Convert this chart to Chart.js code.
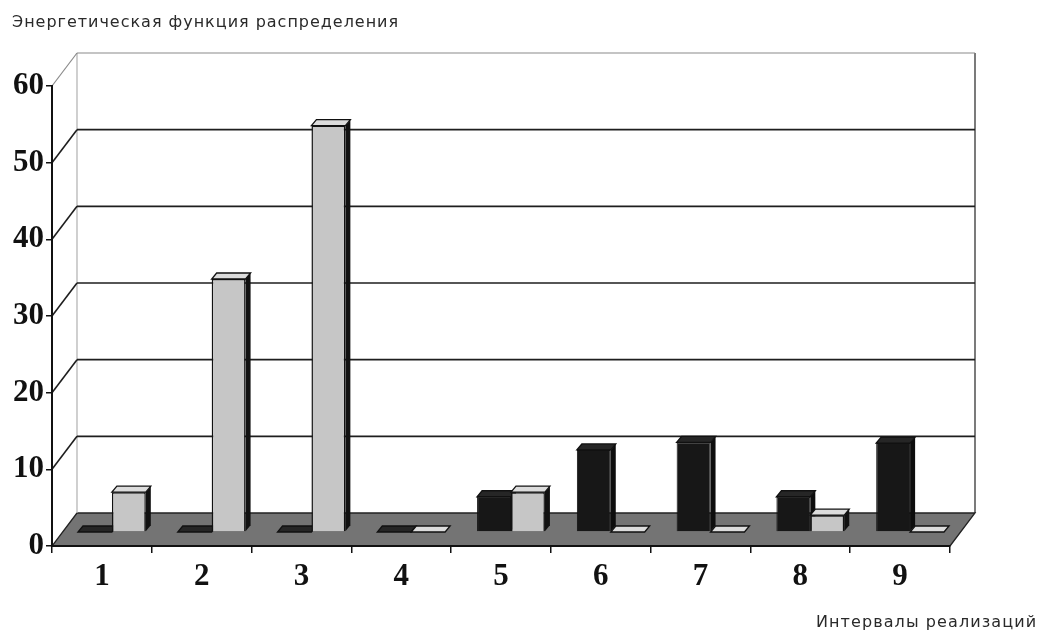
<!DOCTYPE html>
<html>
<head>
<meta charset="utf-8">
<script src="https://cdn.jsdelivr.net/npm/chart.js@4.4.1/dist/chart.umd.min.js"></script>
<style>
    html, body { margin: 0; padding: 0; background: #fff; }
    #wrap { width: 1040px; height: 631px; }
</style>
</head>
<body>
<div id="wrap"><canvas id="chart"></canvas></div>
<script>
// Данные
const intervals = ['1', '2', '3', '4', '5', '6', '7', '8', '9'];
const darkSeries = [0, 0, 0, 0, 4.6, 10.7, 11.7, 4.6, 11.6];
const lightSeries = [5.2, 33, 53, 0, 5.2, 0, 0, 2.2, 0];
const yTicks = [0, 10, 20, 30, 40, 50, 60];
const chartTitle = 'Энергетическая функция распределения';
const xTitle = 'Интервалы реализаций';

// Смещения "3D": задняя стенка, ряд столбиков, глубина столбика
const WALL = { x: 25, y: -33 };
const ROW = { x: 10, y: -14 };
const BAR = { x: 5, y: -6 };

function line(ctx, x1, y1, x2, y2) {
    ctx.beginPath();
    ctx.moveTo(x1, y1);
    ctx.lineTo(x2, y2);
    ctx.stroke();
}

// Текст с разрядкой, чтобы занять ширину от x0 до x1
function drawSpaced(ctx, text, x0, x1, y) {
    ctx.letterSpacing = '0px';
    const w = ctx.measureText(text).width;
    const extra = (x1 - x0 - w) / (text.length - 1);
    ctx.letterSpacing = extra.toFixed(2) + 'px';
    ctx.fillText(text, x0, y);
    ctx.letterSpacing = '0px';
}

// Пол, задняя стенка и сетка
const box3d = {
    id: 'box3d',
    beforeDraw(chart) {
        const ctx = chart.ctx;
        const x = chart.scales.x, y = chart.scales.y;
        const l = x.left, r = x.right;
        const y0 = y.getPixelForValue(0);
        const yTop = y.getPixelForValue(60);
        ctx.save();

        // пол
        ctx.beginPath();
        ctx.moveTo(l, y0);
        ctx.lineTo(r, y0);
        ctx.lineTo(r + WALL.x, y0 + WALL.y);
        ctx.lineTo(l + WALL.x, y0 + WALL.y);
        ctx.closePath();
        ctx.fillStyle = '#747474';
        ctx.fill();
        ctx.strokeStyle = '#222';
        ctx.lineWidth = 1.3;
        ctx.stroke();

        // края стенки
        ctx.lineWidth = 1.2;
        ctx.strokeStyle = '#b0b0b0';
        line(ctx, l + WALL.x, yTop + WALL.y, l + WALL.x, y0 + WALL.y);
        ctx.strokeStyle = '#222';
        line(ctx, r + WALL.x, yTop + WALL.y, r + WALL.x, y0 + WALL.y);

        // линии сетки и диагонали к оси
        yTicks.forEach(v => {
            if (v === 0) return;
            const py = y.getPixelForValue(v);
            ctx.strokeStyle = v === 60 ? '#8a8a8a' : '#1e1e1e';
            ctx.lineWidth = v === 60 ? 1.2 : 1.6;
            line(ctx, l + WALL.x, py + WALL.y, r + WALL.x, py + WALL.y);
            line(ctx, l, py, l + WALL.x, py + WALL.y);
        });
        ctx.restore();
    }
};

// Боковые и верхние грани столбиков, сдвиг ряда вглубь
const barDepth = {
    id: 'barDepth',
    beforeDatasetsDraw(chart) {
        const ctx = chart.ctx;
        ctx.save();
        ctx.translate(ROW.x, ROW.y);
        chart.data.datasets.forEach((ds, i) => {
            chart.getDatasetMeta(i).data.forEach(bar => {
                const L = bar.x - bar.width / 2;
                const R = bar.x + bar.width / 2;
                const T = bar.y, B = bar.base;

                // бок
                ctx.beginPath();
                ctx.moveTo(R, T);
                ctx.lineTo(R + BAR.x, T + BAR.y);
                ctx.lineTo(R + BAR.x, B + BAR.y);
                ctx.lineTo(R, B);
                ctx.closePath();
                ctx.fillStyle = ds.sideColor;
                ctx.fill();

                // верх
                ctx.beginPath();
                ctx.moveTo(L, T);
                ctx.lineTo(R, T);
                ctx.lineTo(R + BAR.x, T + BAR.y);
                ctx.lineTo(L + BAR.x, T + BAR.y);
                ctx.closePath();
                ctx.fillStyle = ds.topColor;
                ctx.fill();
                ctx.strokeStyle = '#111';
                ctx.lineWidth = 1.3;
                ctx.stroke();
            });
        });
    },
    afterDatasetsDraw(chart) {
        chart.ctx.restore();
    }
};

// Подписи
const captions = {
    id: 'captions',
    afterDraw(chart) {
        const ctx = chart.ctx;
        ctx.save();
        ctx.fillStyle = '#2a2a2a';
        ctx.textBaseline = 'alphabetic';
        ctx.font = '16px "DejaVu Sans"';
        drawSpaced(ctx, chartTitle, 12, 398, 27);
        drawSpaced(ctx, xTitle, 816, 1036, 627);
        ctx.restore();
    }
};

const tickFont = { family: "'Liberation Serif', 'Times New Roman', serif", size: 31, weight: 'bold' };

new Chart(document.getElementById('chart'), {
    type: 'bar',
    data: {
        labels: intervals,
        datasets: [
            {
                label: 'dark',
                data: darkSeries,
                backgroundColor: '#171717',
                borderColor: '#111',
                borderWidth: 1,
                topColor: '#262626',
                sideColor: '#0d0d0d'
            },
            {
                label: 'light',
                data: lightSeries,
                backgroundColor: '#c6c6c6',
                borderColor: '#111',
                borderWidth: 1.5,
                topColor: '#dcdcdc',
                sideColor: '#111'
            }
        ]
    },
    options: {
        responsive: true,
        maintainAspectRatio: false,
        animation: false,
        events: [],
        clip: false,
        categoryPercentage: 0.68,
        barPercentage: 1.0,
        layout: {
            padding: { left: 0, right: 90, top: 86, bottom: 0 }
        },
        plugins: {
            legend: { display: false },
            tooltip: { enabled: false }
        },
        scales: {
            x: {
                offset: true,
                grid: {
                    offset: true,
                    drawOnChartArea: false,
                    drawTicks: true,
                    tickLength: 7,
                    color: '#111',
                    lineWidth: 1.5
                },
                border: { display: true, color: '#111', width: 2 },
                ticks: { font: tickFont, color: '#111', padding: 5 },
                afterFit: function(scale) { scale.height = 85; }
            },
            y: {
                min: 0,
                max: 60,
                grid: {
                    drawOnChartArea: false,
                    drawTicks: true,
                    tickLength: 6,
                    color: '#111',
                    lineWidth: 1.5
                },
                border: { display: true, color: '#111', width: 2 },
                ticks: { stepSize: 10, font: tickFont, color: '#111', padding: 2 },
                afterFit: function(scale) { scale.width = 52; }
            }
        }
    },
    plugins: [box3d, barDepth, captions]
});
</script>
</body>
</html>
